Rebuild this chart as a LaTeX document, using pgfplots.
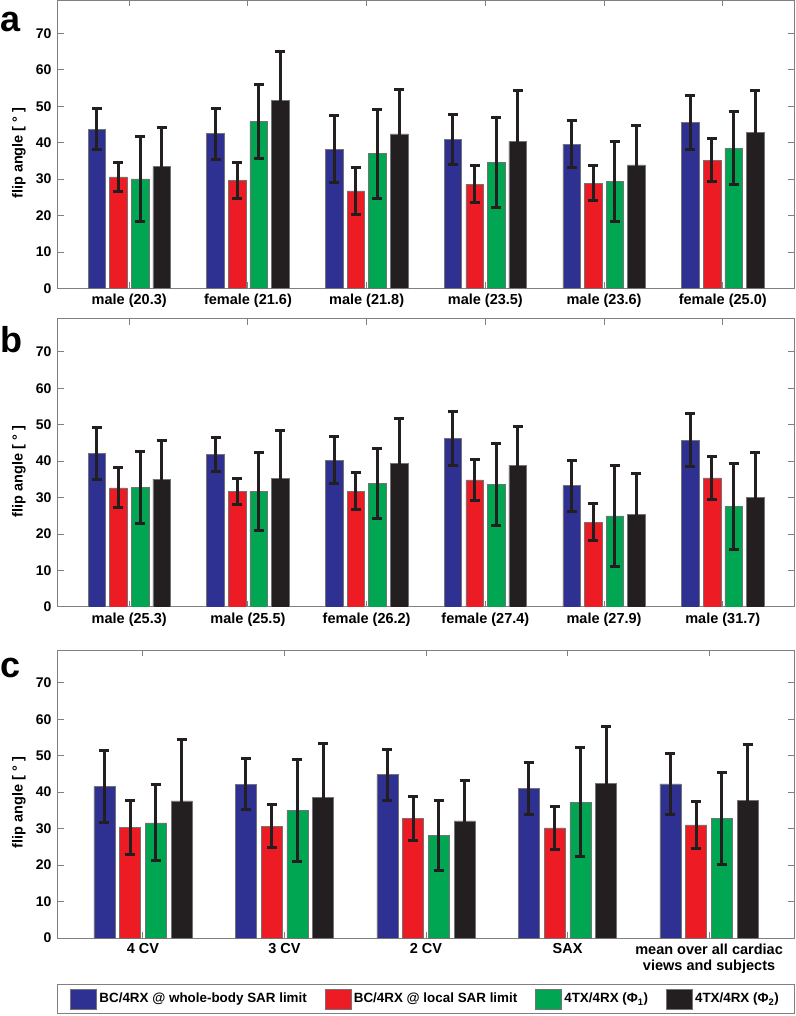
\documentclass[border=0pt]{standalone}
\usepackage{pgfplots}
\usepackage{pgfplotstable}
\pgfplotsset{compat=1.18}
\usepackage{fontspec}
\setmainfont{Liberation Sans}
\definecolor{cblue}{HTML}{2E3192}
\definecolor{cred}{HTML}{ED1C24}
\definecolor{cgreen}{HTML}{00A651}
\definecolor{cblack}{HTML}{231F20}
\definecolor{cframe}{HTML}{808080}

\pgfplotstableread{
x b be r re g ge k ke
1 43.7 5.7 30.6 4.0 30.1 11.6 33.4 10.7
2 42.5 7.0 29.6 5.0 45.8 10.2 51.7 13.4
3 38.2 9.2 26.8 6.4 37.0 12.2 42.4 12.2
4 40.9 6.9 28.6 5.0 34.6 12.3 40.3 14.1
5 39.6 6.4 28.9 4.8 29.3 11.0 33.9 10.7
6 45.5 7.4 35.2 5.9 38.5 10.0 42.9 11.5
}\dataA
\pgfplotstableread{
x b be r re g ge k ke
1 42.1 7.0 32.7 5.5 32.8 9.9 35.1 10.6
2 41.9 4.7 31.7 3.5 31.7 10.8 35.3 13.0
3 40.3 6.4 31.8 5.0 33.9 9.7 39.3 12.4
4 46.2 7.5 34.9 5.6 33.6 11.2 38.9 10.7
5 33.3 7.0 23.3 5.0 25.0 13.8 25.5 11.1
6 45.8 7.3 35.4 5.9 27.6 11.7 30.1 12.2
}\dataB
\pgfplotstableread{
x b be r re g ge k ke
1 41.5 9.8 30.3 7.4 31.6 10.4 37.6 16.8
2 42.2 7.0 30.7 5.9 35.0 13.9 38.6 14.8
3 44.8 7.0 32.8 6.0 28.1 9.6 32.1 11.1
4 41.0 7.1 30.2 5.8 37.3 14.9 42.5 15.5
5 42.3 8.3 31.0 6.4 32.8 12.7 37.7 15.4
}\dataC

\pgfplotsset{
  panel/.style={
    width=736pt, height=288pt, scale only axis,
    ybar, bar width=0.148,
    ymin=0, ymax=79,
    ytick={0,10,...,70},
    tick align=inside, major tick length=6pt,
    axis line style={draw=cframe, line width=1pt},
    every tick/.style={draw=cframe, line width=1pt},
    /pgf/number format/assume math mode=true,
    yticklabel style={font=\fontsize{14}{16}\selectfont\bfseries, xshift=-3pt},
    xticklabel style={font=\fontsize{14.5}{16.5}\selectfont\bfseries, yshift=-2pt, align=center},
    every axis y label/.style={at={(axis description cs:-0.053,0.47)}, rotate=90, anchor=center, font=\fontsize{14.5}{16}\selectfont\bfseries},
    ylabel={flip angle [ ° ]},
    error bars/y dir=both, error bars/y explicit,
    error bars/error bar style={line width=3pt, draw=cblack},
    error bars/error mark options={rotate=90, mark size=5pt, line width=3pt, draw=cblack},
  },
  s1/.style={fill=cblue, draw=black!55, line width=0.5pt, bar shift=-0.273},
  s2/.style={fill=cred, draw=black!55, line width=0.5pt, bar shift=-0.091},
  s3/.style={fill=cgreen, draw=black!55, line width=0.5pt, bar shift=0.091},
  s4/.style={fill=cblack, draw=black!55, line width=0.5pt, bar shift=0.273},
}

\begin{document}
\begin{tikzpicture}
\useasboundingbox (0pt,0pt) rectangle (795pt,1016pt);

% panel a
\begin{axis}[panel, at={(58pt,727.5pt)}, anchor=south west,
  xmin=0.4, xmax=6.6, xtick={1,...,6},
  xticklabels={male (20.3),female (21.6),male (21.8),male (23.5),male (23.6),female (25.0)}]
\addplot[s1] table[x=x,y=b,y error=be] {\dataA};
\addplot[s2] table[x=x,y=r,y error=re] {\dataA};
\addplot[s3] table[x=x,y=g,y error=ge] {\dataA};
\addplot[s4] table[x=x,y=k,y error=ke] {\dataA};
\end{axis}

% panel b
\begin{axis}[panel, at={(58pt,409pt)}, anchor=south west,
  xmin=0.4, xmax=6.6, xtick={1,...,6},
  xticklabels={male (25.3),male (25.5),female (26.2),female (27.4),male (27.9),male (31.7)}]
\addplot[s1] table[x=x,y=b,y error=be] {\dataB};
\addplot[s2] table[x=x,y=r,y error=re] {\dataB};
\addplot[s3] table[x=x,y=g,y error=ge] {\dataB};
\addplot[s4] table[x=x,y=k,y error=ke] {\dataB};
\end{axis}

% panel c
\begin{axis}[panel, at={(58pt,78pt)}, anchor=south west,
  xmin=0.4, xmax=5.6, xtick={1,...,5},
  xticklabels={4 CV,3 CV,2 CV,SAX,{mean over all cardiac\\views and subjects}},
  legend image code/.code={\draw[#1, draw=black!55, line width=0.5pt] (0pt,-10pt) rectangle (26pt,10pt);},
  legend columns=4,
  legend cell align=left,
  legend style={at={(axis description cs:-0.0014,-0.160)}, anchor=north west,
    draw=cframe, line width=1pt, inner xsep=13pt, inner ysep=4pt,
    font=\fontsize{13.4}{16}\selectfont\bfseries,
    nodes={inner xsep=2.5pt, inner ysep=1pt},
    /tikz/every even column/.append style={column sep=15.5pt}},
  ]
\addplot[s1] table[x=x,y=b,y error=be] {\dataC};
\addlegendentry{BC/4RX @ whole-body SAR limit}
\addplot[s2] table[x=x,y=r,y error=re] {\dataC};
\addlegendentry{BC/4RX @ local SAR limit}
\addplot[s3] table[x=x,y=g,y error=ge] {\dataC};
\addlegendentry{4TX/4RX (Φ\textsubscript{1})}
\addplot[s4] table[x=x,y=k,y error=ke] {\dataC};
\addlegendentry{4TX/4RX (Φ\textsubscript{2})}
\end{axis}

\node[anchor=base west, inner sep=0pt, font=\fontsize{36}{36}\selectfont\bfseries] at (0pt,984pt) {a};
\node[anchor=base west, inner sep=0pt, font=\fontsize{36}{36}\selectfont\bfseries] at (0pt,663pt) {b};
\node[anchor=base west, inner sep=0pt, font=\fontsize{36}{36}\selectfont\bfseries] at (0pt,338pt) {c};
\end{tikzpicture}
\end{document}
